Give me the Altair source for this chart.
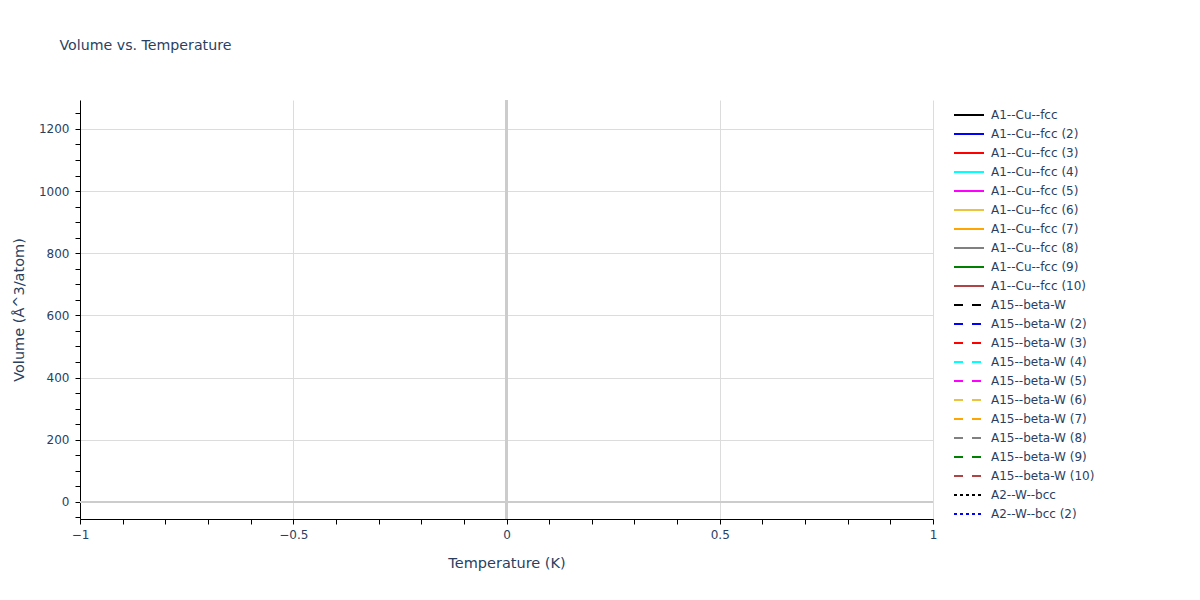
import altair as alt
import pandas as pd

names = [
    "A1--Cu--fcc", "A1--Cu--fcc (2)", "A1--Cu--fcc (3)", "A1--Cu--fcc (4)", "A1--Cu--fcc (5)",
    "A1--Cu--fcc (6)", "A1--Cu--fcc (7)", "A1--Cu--fcc (8)", "A1--Cu--fcc (9)", "A1--Cu--fcc (10)",
    "A15--beta-W", "A15--beta-W (2)", "A15--beta-W (3)", "A15--beta-W (4)", "A15--beta-W (5)",
    "A15--beta-W (6)", "A15--beta-W (7)", "A15--beta-W (8)", "A15--beta-W (9)", "A15--beta-W (10)",
    "A2--W--bcc", "A2--W--bcc (2)",
]
palette = ["black", "blue", "red", "cyan", "magenta", "#ebc33f", "orange", "grey", "green", "#b04444"]
colors = palette + palette + ["black", "blue"]
dash_styles = [[1, 0]] * 10 + [[9, 9]] * 10 + [[3, 3]] * 2

# traces carry no plotted points
temperature = [None] * len(names)
volume = [None] * len(names)

x_ticks = [-1, -0.9, -0.8, -0.7, -0.6, -0.5, -0.4, -0.3, -0.2, -0.1, 0,
           0.1, 0.2, 0.3, 0.4, 0.5, 0.6, 0.7, 0.8, 0.9, 1]
y_ticks = [-50, 0, 50, 100, 150, 200, 250, 300, 350, 400, 450, 500, 550, 600,
           650, 700, 750, 800, 850, 900, 950, 1000, 1050, 1100, 1150, 1200, 1250]

df = pd.DataFrame({"name": names, "T": temperature, "V": volume})

TXT = "#2a3f5f"
FONT = "DejaVu Sans"

x_major = "abs(datum.value*2 - round(datum.value*2)) < 1e-6"
y_major = "abs(datum.value/200 - round(datum.value/200)) < 1e-6"

x_axis = alt.Axis(
    values=x_ticks, tickCount=100, title="Temperature (K)",
    labelExpr="(" + x_major + ") ? replace(format(datum.value, '~g'), '-', '\u2212') : ''",
    grid=True, labelOverlap=False,
    gridColor="#dcdcdc",
    gridOpacity={"condition": {"test": x_major, "value": 1}, "value": 0},
    domainColor="black", tickColor="black", tickSize=5, labelPadding=5,
    titlePadding=16, labelFontSize=12, titleFontSize=14.5, labelColor=TXT, titleColor=TXT,
    labelFont=FONT, titleFont=FONT, titleFontWeight="normal", labelFlush=False,
)
y_axis = alt.Axis(
    values=y_ticks, tickCount=100, title="Volume (\u00c5^3/atom)",
    labelExpr="(" + y_major + ") ? format(datum.value, '~g') : ''",
    grid=True, labelOverlap=False,
    gridColor="#dcdcdc",
    gridOpacity={"condition": {"test": y_major, "value": 1}, "value": 0},
    domainColor="black", tickColor="black", tickSize=5, labelPadding=6,
    titlePadding=12, labelFontSize=12, titleFontSize=14.5, labelColor=TXT, titleColor=TXT,
    labelFont=FONT, titleFont=FONT, titleFontWeight="normal",
)

lines = alt.Chart(df).mark_line(strokeWidth=2).encode(
    x=alt.X("T:Q", scale=alt.Scale(domain=[-1, 1], nice=False, zero=False), axis=x_axis),
    y=alt.Y("V:Q", scale=alt.Scale(domain=[-55, 1293], nice=False, zero=False), axis=y_axis),
    color=alt.Color("name:N", scale=alt.Scale(domain=names, range=colors),
                    legend=alt.Legend(title=None, orient="none", legendX=882, legendY=8,
                                      symbolType="M-2.5,0H2.5", symbolSize=144,
                                      symbolStrokeWidth=2, labelFontSize=12, labelColor=TXT,
                                      labelFont=FONT, labelOffset=15, rowPadding=6,
                                      padding=0, labelLimit=300)),
    strokeDash=alt.StrokeDash("name:N", scale=alt.Scale(domain=names, range=dash_styles),
                              legend=None),
    detail="name:N",
)

zero_y = alt.Chart(df).mark_rule(color="#cccccc", strokeWidth=2).encode(y=alt.YDatum(0))
zero_x = alt.Chart(df).mark_rule(color="#cccccc", strokeWidth=2).encode(x=alt.XDatum(0))

chart = alt.layer(lines, zero_y, zero_x).properties(
    width=853, height=419,
    background="white",
    title=alt.Title("Volume vs. Temperature", anchor="start", dx=48, offset=46,
                    fontSize=14.2, font=FONT, color=TXT, fontWeight="normal"),
    autosize=alt.AutoSizeParams(type="none"),
    padding={"left": 72, "top": 92, "right": 259, "bottom": 73},
).configure_view(stroke=None)

chart.save("out.html", embed_options={"renderer": "svg", "actions": False})
